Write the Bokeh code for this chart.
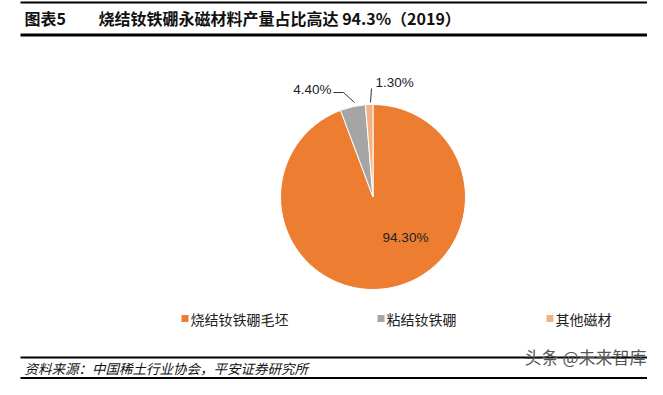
import math
from bokeh.plotting import figure
from bokeh.models import Range1d, ColumnDataSource
from bokeh.core.properties import value
from bokeh.embed import file_html
from bokeh.resources import INLINE

# ---- data ----
categories = ["烧结钕铁硼毛坯", "粘结钕铁硼", "其他磁材"]
shares = [94.3, 4.4, 1.3]
colors = ["#ED7D31", "#A5A5A5", "#F4B183"]
title_tag = "图表5"
title_text = "烧结钕铁硼永磁材料产量占比高达 94.3%（2019）"
source_text = "资料来源：中国稀土行业协会，平安证券研究所"
watermark = "头条 @未来智库"

FONT = "Noto Sans CJK SC"
W, H = 647, 379

def Y(y):
    return H - y

p = figure(width=W, height=H, output_backend="svg", toolbar_location=None,
           x_range=Range1d(0, W), y_range=Range1d(0, H),
           min_border=0, min_border_left=0, min_border_right=0,
           min_border_top=0, min_border_bottom=0)
p.axis.visible = False
p.grid.visible = False
p.outline_line_color = None
p.background_fill_color = "white"
p.border_fill_color = "white"

# ---- pie ----
cx, cy, r = 372.5, Y(196.5), 92.5
total = sum(shares)
cum = [0.0]
for s in shares:
    cum.append(cum[-1] + s / total)
starts = [math.pi / 2 - 2 * math.pi * cum[i + 1] for i in range(len(shares))]
ends = [math.pi / 2 - 2 * math.pi * cum[i] for i in range(len(shares))]
src = ColumnDataSource(dict(x=[cx] * 3, y=[cy] * 3, start=starts, end=ends,
                            color=colors, cat=categories))
p.wedge(x="x", y="y", radius=r, start_angle="start", end_angle="end",
        fill_color="color", line_color="white", line_width=1, source=src)

labels = [f"{v:.2f}%" for v in shares]
LBL = dict(text_font=value("Liberation Sans"), text_font_size="13.5px",
           text_color="#222222", text_baseline="middle")
p.text(x=[405], y=[Y(237)], text=[labels[0]], text_align="center", **LBL)
p.text(x=[331], y=[Y(89)], text=[labels[1]], text_align="right", **LBL)
p.text(x=[375], y=[Y(82)], text=[labels[2]], text_align="left", **LBL)
# leader lines
p.line(x=[333, 343, 354], y=[Y(92), Y(92), Y(102)], line_color="#333333", line_width=1)
p.line(x=[371, 370], y=[Y(88), Y(102)], line_color="#333333", line_width=1)

# ---- legend ----
leg_x = [181, 377, 546]
leg_y = Y(318)
p.rect(x=[lx + 3.5 for lx in leg_x], y=[leg_y] * 3, width=7, height=7,
       fill_color=colors, line_color=None)
p.text(x=[lx + 9 for lx in leg_x], y=[leg_y] * 3, text=categories,
       text_font=value(FONT), text_font_size="14px", text_color="#222222",
       text_align="left", text_baseline="middle")

# ---- title ----
p.line(x=[20, W], y=[Y(2), Y(2)], line_color="black", line_width=2)
p.text(x=[24], y=[Y(17)], text=[title_tag], text_font=value(FONT),
       text_font_size="16px", text_font_style="bold", text_color="#111111",
       text_baseline="middle")
p.text(x=[98], y=[Y(17)], text=[title_text], text_font=value(FONT),
       text_font_size="16px", text_font_style="bold", text_color="#111111",
       text_baseline="middle")
p.line(x=[20, W], y=[Y(34.5), Y(34.5)], line_color="black", line_width=3)

# ---- footer ----
p.line(x=[20, W], y=[Y(357), Y(357)], line_color="black", line_width=2)
p.text(x=[24], y=[Y(367)], text=[source_text], text_font=value(FONT),
       text_font_size="13.5px", text_font_style="italic", text_color="#111111",
       text_baseline="middle")
p.text(x=[646], y=[Y(356)], text=[watermark], text_font=value(FONT),
       text_font_size="17px", text_color="#555555", text_align="right",
       text_baseline="middle")
p.line(x=[20, W], y=[Y(377.5), Y(377.5)], line_color="black", line_width=2)

open("out.html", "w").write(file_html(p, INLINE))
